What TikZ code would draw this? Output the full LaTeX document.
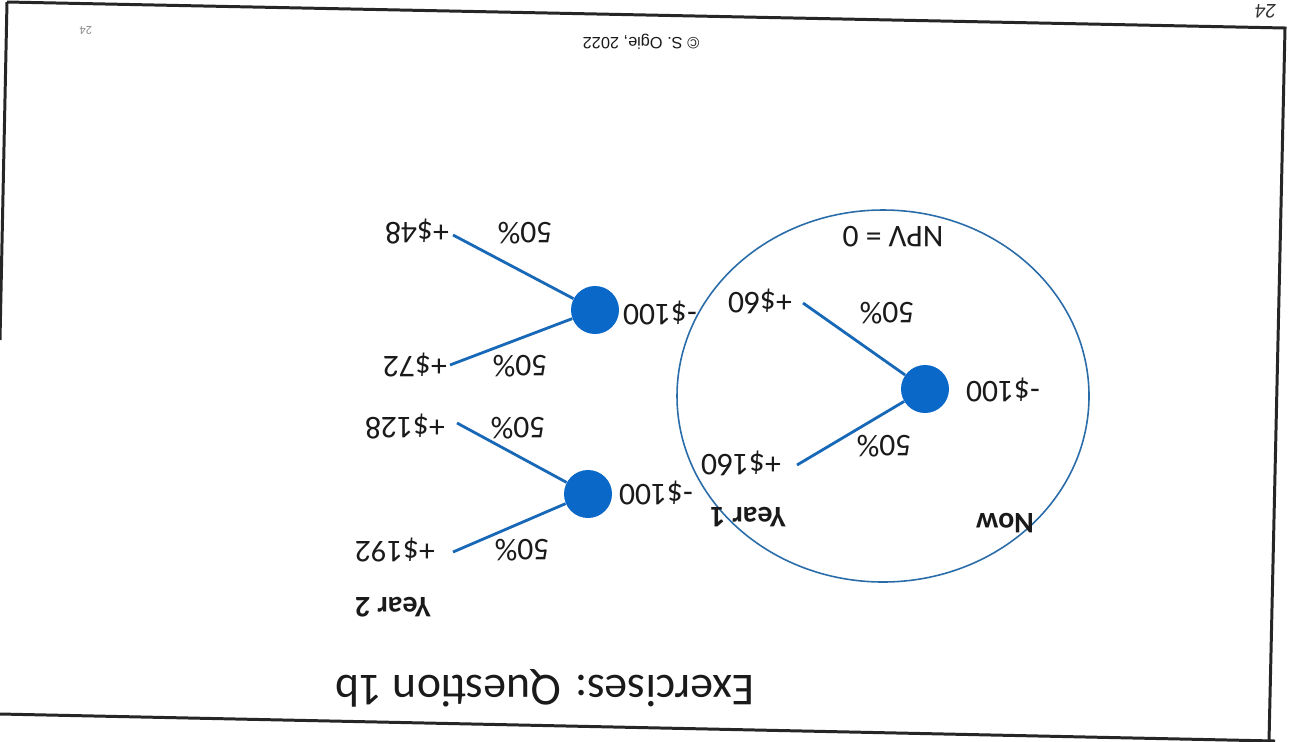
\documentclass[tikz,border=0pt]{standalone}
\usepackage{fontspec}
\setmainfont{Carlito}
\newfontfamily\arialfont{Liberation Sans}
\definecolor{nodeblue}{HTML}{0A68C8}
\definecolor{lineblue}{HTML}{1868B8}
\definecolor{ringblue}{HTML}{2A6CA8}
\definecolor{ink}{HTML}{1A1A1A}
\tikzset{
  chance/.style={circle,fill=nodeblue,draw=none,minimum size=48*0.02cm,inner sep=0pt},
  branch/.style={draw=lineblue,line width=1.6pt},
  frameline/.style={draw=black!85,line width=1.7pt},
  lbl/.style={rotate=180,text=ink,font=\fontsize{18}{20}\selectfont,inner sep=0pt},
  hdr/.style={rotate=180,text=ink,font=\fontsize{17}{19}\selectfont\bfseries,inner sep=0pt},
}
\begin{document}
\begin{tikzpicture}[x=0.02cm,y=-0.02cm]
\useasboundingbox (0,0) rectangle (1290,741);
\fill[white] (0,0) rectangle (1290,741);
% page frame (scanned, slightly skewed)
\draw[frameline] (7,2) -- (1285,28) -- (1269,741);
\draw[frameline] (7,2) -- (0,340);
\draw[frameline] (0,714) -- (1275,741);
% page numbers and footer
\node[rotate=180,text=black!80,font=\fontsize{12}{13}\selectfont\itshape,inner sep=0pt] (pg) at (1266,11) {24};
\node[rotate=180,text=black!45,font=\fontsize{7}{8}\selectfont,inner sep=0pt] (pgs) at (86,30) {24};
\node[rotate=180,text=ink,font=\arialfont\fontsize{9.3}{11}\selectfont,inner sep=0pt] (copy) at (641,42) {\textcopyright\ S. Ogie, 2022};
% title
\node[rotate=180,text=ink,font=\fontsize{26}{29}\selectfont,inner sep=0pt] (title) at (545,688) {Exercises: Question 1b};
% NPV ring
\draw[ringblue,line width=0.9pt] (883,396) ellipse [x radius=206, y radius=186];
\node[lbl] (npv) at (893,237) {NPV = 0};
% headers
\node[hdr] (now) at (1005,523) {Now};
\node[hdr] (y1) at (748,517) {Year 1};
\node[hdr] (y2) at (393,607) {Year 2};
% chance nodes
\node[chance] (n0) at (925,389) {};
\node[chance] (n1a) at (595,310) {};
\node[chance] (n1b) at (588,494) {};
% node values
\node[lbl] (v0) at (1003,390) {-\$100};
\node[lbl] (v1a) at (660,313) {-\$100};
\node[lbl] (v1b) at (656,493) {-\$100};
% year 1 outcomes
\coordinate (c60) at (803,303);
\coordinate (c160) at (797,465);
\node[lbl] (o60) at (760,301) {+\$60};
\node[lbl] (o160) at (741,463) {+\$160};
\draw[branch] (n0) -- (c60);
\draw[branch] (n0) -- (c160);
\node[lbl] (p60) at (887,313) {50\%};
\node[lbl] (p160) at (884,446) {50\%};
% year 2 outcomes, upper
\coordinate (c48) at (453,235);
\coordinate (c72) at (450,365);
\node[lbl] (o48) at (417,232) {+\$48};
\node[lbl] (o72) at (415,365) {+\$72};
\draw[branch] (n1a) -- (c48);
\draw[branch] (n1a) -- (c72);
\node[lbl] (p48) at (525,233) {50\%};
\node[lbl] (p72) at (520,366) {50\%};
% year 2 outcomes, lower
\coordinate (c128) at (457,423);
\coordinate (c192) at (453,552);
\node[lbl] (o128) at (405,427) {+\$128};
\node[lbl] (o192) at (395,550) {+\$192};
\draw[branch] (n1b) -- (c128);
\draw[branch] (n1b) -- (c192);
\node[lbl] (p128) at (518,428) {50\%};
\node[lbl] (p192) at (522,550) {50\%};
\end{tikzpicture}
\end{document}
